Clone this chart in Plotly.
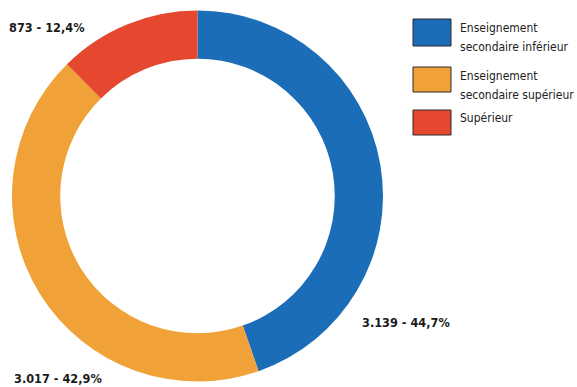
import plotly.graph_objects as go

categories = ["Enseignement<br>secondaire inférieur", "Enseignement<br>secondaire supérieur", "Supérieur"]
values = [3139, 3017, 873]
percents = [44.7, 42.9, 12.4]
colors = ["#1b6db8", "#f0a238", "#e5472f"]

W, H = 577, 387
FONT = "DejaVu Sans Condensed, Liberation Sans Narrow, Arial Narrow, sans-serif"

def fmt_num(v):
    return f"{v:,}".replace(",", ".")

def fmt_pct(p):
    return f"{p:.1f}".replace(".", ",") + "%"

fig = go.Figure(go.Pie(
    labels=categories,
    values=values,
    hole=0.74,
    sort=False,
    direction="clockwise",
    rotation=0,
    marker=dict(colors=colors, line=dict(width=0)),
    textinfo="none",
    hoverinfo="label+value+percent",
    showlegend=False,
    domain=dict(x=[12 / W, 383 / W], y=[1 - 382 / H, 1 - 10 / H]),
))

def px(x):
    return x / W

def py(y):
    return 1 - y / H

# data labels
label_pos = [(406, 322), (58, 378), (47, 27)]
annotations = []
for v, p, (lx, ly) in zip(values, percents, label_pos):
    annotations.append(dict(
        x=px(lx), y=py(ly), xref="paper", yref="paper",
        text=f"<b>{fmt_num(v)} - {fmt_pct(p)}</b>",
        showarrow=False, xanchor="center", yanchor="middle",
        font=dict(family=FONT, size=12.6, color="#1a1a1a"),
    ))

# custom legend
box_tops = [19, 67, 110]
box_h = [27, 25, 25]
text_y = [37, 85, 118]
line_gap = 19
shapes = []
for c, cat, t, h, ty in zip(colors, categories, box_tops, box_h, text_y):
    shapes.append(dict(
        type="rect", xref="paper", yref="paper",
        x0=px(413), x1=px(451), y0=py(t + h), y1=py(t),
        fillcolor=c, line=dict(color="#2a2a2a", width=1),
    ))
    lines = cat.split("<br>")
    n = len(lines)
    for i, ln in enumerate(lines):
        yy = ty + (i - (n - 1) / 2) * line_gap
        annotations.append(dict(
            x=px(458), y=py(yy), xref="paper", yref="paper",
            text=ln, showarrow=False, xanchor="left", yanchor="middle",
            align="left",
            font=dict(family=FONT, size=12, color="#222222"),
        ))

fig.update_layout(
    width=W, height=H,
    margin=dict(l=0, r=0, t=0, b=0),
    paper_bgcolor="white", plot_bgcolor="white",
    annotations=annotations,
    shapes=shapes,
)

fig.write_html("out.html", config={"displayModeBar": False},
               post_script="document.body.style.margin='0';")
